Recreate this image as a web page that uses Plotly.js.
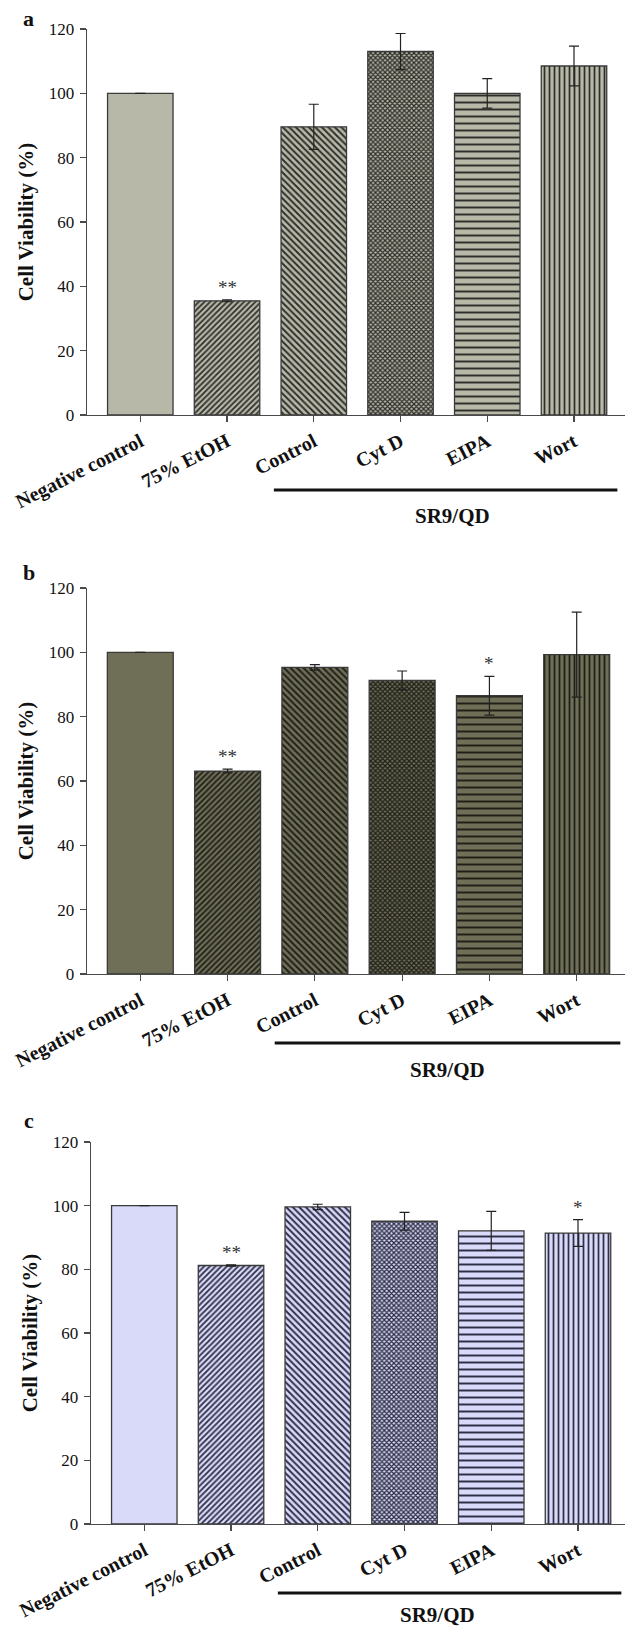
<!DOCTYPE html>
<html>
<head>
<meta charset="utf-8">
<script src="https://cdn.plot.ly/plotly-3.0.1.min.js"></script>
<style>
  html, body { margin: 0; padding: 0; background: #fff; }
  #chart { width: 625px; height: 1627px; }
</style>
</head>
<body>
<div id="chart"></div>
<script>
// ---------------- data ----------------
const categories = ["Negative control", "75% EtOH", "Control", "Cyt D", "EIPA", "Wort"];
const yTickValues = [0, 20, 40, 60, 80, 100, 120];
const panelLetters = ["a", "b", "c"];
const groupLabel = "SR9/QD";
const groupFirst = 2;   // index of "Control"
const groupLast = 5;    // index of "Wort"

const viabilityA = [100, 35.5, 89.6, 113.0, 100.0, 108.5];
const errorA     = [null, 0.3, 7.0, 5.6, 4.6, 6.2];
const starsA     = ["", "**", "", "", "", ""];

const viabilityB = [100, 63.1, 95.3, 91.3, 86.5, 99.3];
const errorB     = [null, 0.6, 0.85, 2.9, 6.0, 13.2];
const starsB     = ["", "**", "", "", "*", ""];

const viabilityC = [100, 81.2, 99.6, 95.1, 92.1, 91.4];
const errorC     = [null, 0.2, 0.85, 2.8, 6.1, 4.2];
const starsC     = ["", "**", "", "", "", "*"];

// ---------------- styling ----------------
const W = 625, H = 1627;
const serif = "'Liberation Serif', 'Times New Roman', serif";
const patternShapes = ["", "/", "\\", "x", "-", "|"];
const patternSizes  = [8, 4, 4.6, 3.4, 7, 5];
const patternSolid  = [0.3, 0.45, 0.42, 0.6, 0.28, 0.35];

// pixel geometry of each panel (in page pixels)
const panels = [
  { vals: viabilityA, errs: errorA, stars: starsA, fill: "#b8b8a9", fg: "#2e2e2a",
    left: 87, tick0: 140.3, step: 86.74, top: 29, bottom: 415,
    lineY: 490, labelY: 516, labelShift: 9, letterY: 33 },
  { vals: viabilityB, errs: errorB, stars: starsB, fill: "#6f6e57", fg: "#1f1f18",
    left: 87, tick0: 140.3, step: 87.28, top: 588, bottom: 974,
    lineY: 1043, labelY: 1070, labelShift: 2, letterY: 587 },
  { vals: viabilityC, errs: errorC, stars: starsC, fill: "#d9d9fa", fg: "#2e2e44",
    left: 91, tick0: 144.3, step: 86.74, top: 1142, bottom: 1524,
    lineY: 1593, labelY: 1615, labelShift: -10, letterY: 1135 }
];

const py = v => 1 - v / H;
const px = v => v / W;

const data = [];
const layout = {
  width: W, height: H,
  margin: { l: 0, r: 0, t: 0, b: 0 },
  paper_bgcolor: "#fff", plot_bgcolor: "rgba(0,0,0,0)",
  showlegend: false,
  font: { family: serif, color: "#111" },
  bargap: 0.245,
  annotations: [],
  shapes: []
};

panels.forEach((p, i) => {
  const n = i === 0 ? "" : String(i + 1);
  const xa = "x" + n, ya = "y" + n;
  data.push({
    type: "bar",
    x: categories,
    y: p.vals,
    xaxis: xa, yaxis: ya,
    marker: {
      color: p.fill,
      line: { color: "#3a3a3a", width: 1.3 },
      pattern: {
        shape: patternShapes,
        size: patternSizes,
        solidity: patternSolid,
        fgcolor: p.fg,
        bgcolor: p.fill,
        fillmode: "replace"
      }
    },
    error_y: {
      type: "data", array: p.errs, visible: true,
      color: "#222", thickness: 1.2, width: 5
    },
    hoverinfo: "skip"
  });

  const xmin = -(p.tick0 - p.left) / p.step;
  const xmax = (W - p.tick0) / p.step;
  layout["xaxis" + n] = {
    domain: [px(p.left), 1],
    anchor: ya,
    type: "category",
    range: [xmin, xmax],
    showline: true, linecolor: "#4a4a4a", linewidth: 1.3,
    ticks: "outside", ticklen: 6, tickcolor: "#4a4a4a", tickwidth: 1.2,
    tickangle: -27,
    ticklabelshift: 0,
    tickfont: { family: serif, size: 20, weight: "bold", color: "#111" },
    showgrid: false, zeroline: false, fixedrange: true
  };
  layout["yaxis" + n] = {
    domain: [py(p.bottom), py(p.top)],
    anchor: xa,
    range: [0, 120],
    tickvals: yTickValues,
    showline: true, linecolor: "#4a4a4a", linewidth: 1.3,
    ticks: "outside", ticklen: 6, tickcolor: "#4a4a4a", tickwidth: 1.2,
    tickfont: { family: serif, size: 17, color: "#111" },
    ticklabelstandoff: 2,
    showgrid: false, zeroline: false, fixedrange: true,
    title: { text: "Cell Viability (%)", font: { family: serif, size: 21, weight: "bold", color: "#111" }, standoff: 9 }
  };

  // significance stars
  p.stars.forEach((s, k) => {
    if (!s) return;
    layout.annotations.push({
      xref: xa, yref: ya, x: categories[k], y: p.vals[k] + (p.errs[k] || 0),
      text: s, showarrow: false, yanchor: "bottom", yshift: 0,
      font: { family: serif, size: 19, color: "#333" }
    });
  });

  // group bracket line + label
  layout.shapes.push({
    type: "line", xref: xa, yref: "paper",
    x0: groupFirst - 0.46, x1: groupLast + 0.5,
    y0: py(p.lineY), y1: py(p.lineY),
    line: { color: "#111", width: 3 }
  });
  layout.annotations.push({
    xref: xa, yref: "paper",
    x: (groupFirst + groupLast) / 2, y: py(p.labelY), xshift: p.labelShift,
    text: groupLabel, showarrow: false, yanchor: "middle", xanchor: "center",
    font: { family: serif, size: 21, weight: "bold", color: "#111" }
  });

  // panel letter
  layout.annotations.push({
    xref: "paper", yref: "paper",
    x: px(29), y: py(p.letterY), xanchor: "center", yanchor: "bottom",
    text: panelLetters[i], showarrow: false,
    font: { family: serif, size: 22, weight: "bold", color: "#111" }
  });
});

Plotly.newPlot("chart", data, layout, { staticPlot: true, displayModeBar: false });
</script>
</body>
</html>
